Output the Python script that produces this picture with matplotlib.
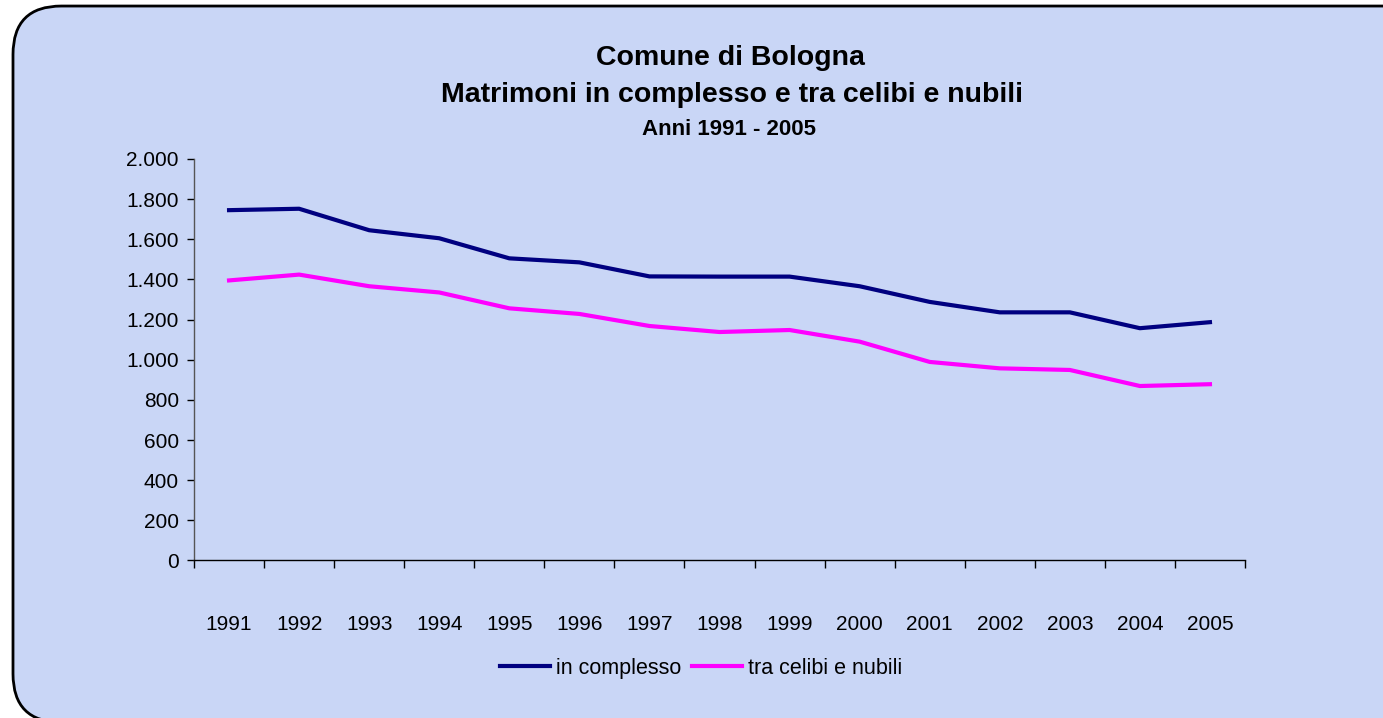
#!/usr/bin/env python3
# -*- coding: utf-8 -*-
import matplotlib
matplotlib.use("Agg")
import matplotlib.pyplot as plt
from matplotlib.patches import FancyBboxPatch
from matplotlib.ticker import FuncFormatter, FixedLocator

# data
anni = ["1991", "1992", "1993", "1994", "1995", "1996", "1997", "1998",
        "1999", "2000", "2001", "2002", "2003", "2004", "2005"]
in_complesso = [1745, 1752, 1645, 1605, 1505, 1485, 1415, 1414,
                1414, 1366, 1288, 1236, 1236, 1157, 1187]
tra_celibi_nubili = [1395, 1424, 1366, 1335, 1256, 1228, 1168, 1138,
                     1148, 1090, 989, 957, 949, 869, 878]

plt.rcParams['font.family'] = ['Liberation Sans', 'DejaVu Sans']

fig = plt.figure(figsize=(13.83, 7.18), dpi=100)
fig.patch.set_facecolor("white")

# rounded chart area with pale background (runs off the right/bottom edge)
bg = FancyBboxPatch((0.0094, -0.006), 1.1, 0.9976,
                    boxstyle="round,pad=0,rounding_size=0.035",
                    transform=fig.transFigure, facecolor="#c9d6f6",
                    edgecolor="black", linewidth=2, zorder=-10,
                    mutation_aspect=1383 / 718)
fig.patches.append(bg)

ax = fig.add_axes([0.1403, 0.2194, 0.7599, 0.5592])
ax.set_zorder(2)
ax.patch.set_alpha(0)

x = list(range(len(anni)))
ax.plot(x, in_complesso, color="#000080", lw=3, label="in complesso")
ax.plot(x, tra_celibi_nubili, color="#ff00ff", lw=3, label="tra celibi e nubili")

ax.set_xlim(-0.5, len(anni) - 0.5)
ax.set_ylim(0, 2000)
ax.set_yticks(range(0, 2001, 200))
ax.yaxis.set_major_formatter(FuncFormatter(lambda v, p: f"{v:,.0f}".replace(",", ".")))

# tick marks between categories, labels at the centres
ax.xaxis.set_major_locator(FixedLocator([i - 0.5 for i in range(len(anni) + 1)]))
ax.xaxis.set_minor_locator(FixedLocator(x))
ax.set_xticklabels([], minor=False)
ax.set_xticklabels(anni, minor=True)
ax.tick_params(axis="x", which="major", length=6, width=1, direction="out")
ax.tick_params(axis="x", which="minor", length=0, pad=39, labelsize=15)
ax.tick_params(axis="y", length=5, width=1, direction="out", pad=6, labelsize=15)

for s in ["top", "right"]:
    ax.spines[s].set_visible(False)
for s in ["left", "bottom"]:
    ax.spines[s].set_linewidth(1)
ax.spines["left"].set_color("#555555")

fig.text(0.528, 0.919, "Comune di Bologna", ha="center", va="center",
         fontsize=20.5, fontweight="bold")
fig.text(0.529, 0.868, "Matrimoni in complesso e tra celibi e nubili",
         ha="center", va="center", fontsize=20.5, fontweight="bold")
fig.text(0.527, 0.819, "Anni 1991 - 2005", ha="center", va="center",
         fontsize=16, fontweight="bold")

fig.legend(loc="center", bbox_to_anchor=(0.507, 0.069), ncol=2, frameon=False,
           fontsize=15.5, handlelength=2.3, handletextpad=0.3, columnspacing=0.5)

fig.savefig("out.png", dpi=100)
